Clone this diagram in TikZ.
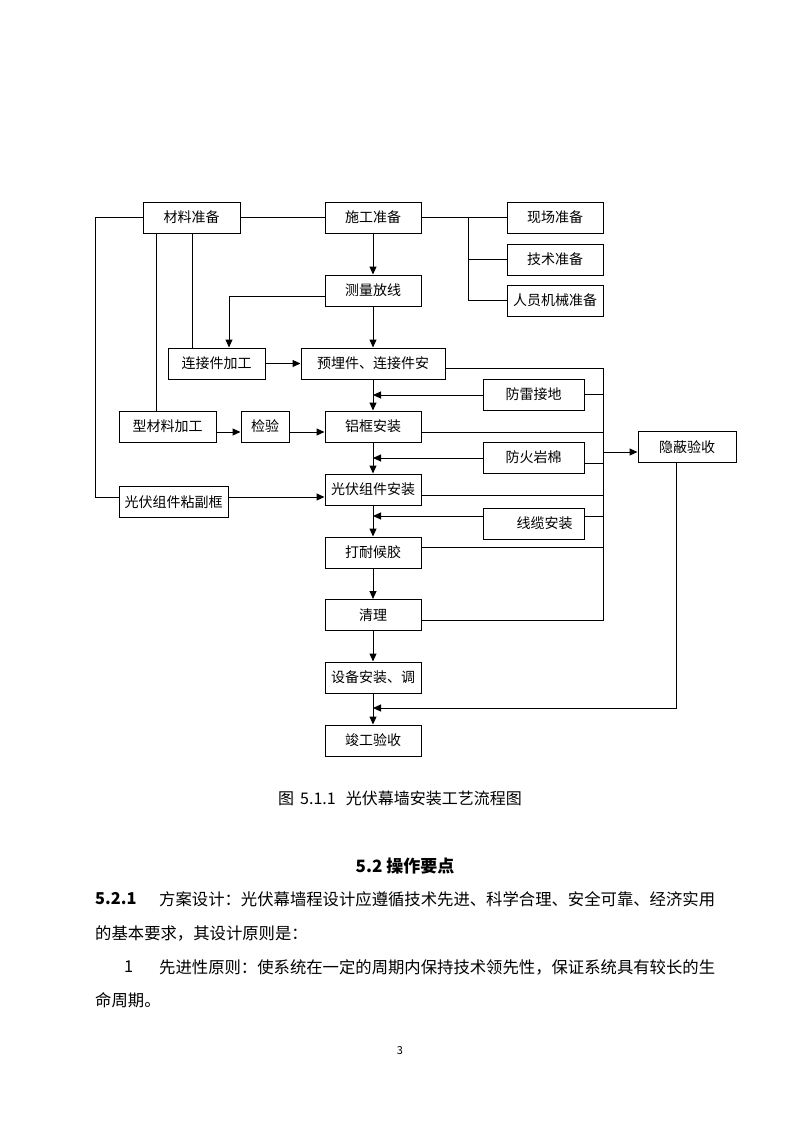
\documentclass[tikz,border=0pt]{standalone}
\usepackage{fontspec}
\setmainfont{Noto Sans CJK SC}
\usetikzlibrary{arrows.meta}
\begin{document}
\begin{tikzpicture}[x=1pt,y=-1pt,
  box/.style={draw, line width=1pt, minimum height=31pt, inner sep=0pt, font=\fontsize{14}{14}\selectfont},
  ln/.style={line width=1pt},
  arr/.style={line width=1pt, -{Triangle[length=8pt,width=7pt]}},
  body/.style={anchor=west, inner sep=0pt, font=\fontsize{16.35}{17}\selectfont}]
\path[fill=white] (0,0) rectangle (800,1132);
\useasboundingbox (0,0) rectangle (800,1132);
% boxes
\node[box, minimum width=97pt] (cl) at (191.5,217.5) {材料准备};
\node[box, minimum width=96pt] (sg) at (373,217.5) {施工准备};
\node[box, minimum width=96pt] (xc) at (555,217.5) {现场准备};
\node[box, minimum width=96pt] (js) at (555,259.5) {技术准备};
\node[box, minimum width=96pt] (ry) at (555,300.5) {人员机械准备};
\node[box, minimum width=96pt] (cf) at (373,290.5) {测量放线};
\node[box, minimum width=97pt] (ljj) at (216.5,363.5) {连接件加工};
\node[box, minimum width=144pt] (ymj) at (373,363.5) {预埋件、连接件安};
\node[box, minimum width=101pt] (flj) at (533.5,394.5) {防雷接地};
\node[box, minimum width=97pt] (xcl) at (167.5,426.5) {型材料加工};
\node[box, minimum width=48pt] (jy) at (265,426.5) {检验};
\node[box, minimum width=96pt] (lk) at (373,426.5) {铝框安装};
\node[box, minimum width=98pt] (yb) at (687,447) {隐蔽验收};
\node[box, minimum width=101pt] (fh) at (533.5,457.5) {防火岩棉};
\node[box, minimum width=96pt] (gfaz) at (373,489.5) {光伏组件安装};
\node[box, minimum width=109pt] (gffk) at (173.5,502) {光伏组件粘副框};
\node[box, minimum width=101pt] (xl) at (533.5,523.5) {\hspace*{22pt}线缆安装};
\node[box, minimum width=96pt] (dn) at (373,552.5) {打耐候胶};
\node[box, minimum width=96pt] (ql) at (373,615) {清理};
\node[box, minimum width=96pt] (sb) at (373,677.5) {设备安装、调};
\node[box, minimum width=96pt] (jg) at (373,740.5) {竣工验收};
% helper coordinates
\coordinate (b1) at (468,217.5);
\coordinate (L) at (95,497);
\coordinate (m1) at (156,0);
\coordinate (m2) at (192,0);
\coordinate (m3) at (229,296);
\coordinate (s1) at (373,395);
\coordinate (s2) at (373,458);
\coordinate (s3) at (373,516);
\coordinate (s4) at (373,708);
\coordinate (a) at (0,432);
\coordinate (bt) at (603,368);
\coordinate (bb) at (603,620);
\coordinate (k) at (676,0);
% top connectors
\draw[ln] (cl.east) -- (sg.west);
\draw[ln] (sg.east) -- (xc.west);
\draw[ln] (b1) |- (ry.west);
\draw[ln] (js.west) -- (js.west -| b1);
\draw[ln] (cl.west) -| (L) -- (gffk.west |- L);
\draw[ln] (cl.south -| m1) -- (xcl.north -| m1);
\draw[ln] (cl.south -| m2) -- (ljj.north -| m2);
\draw[arr] (sg) -- (cf);
\draw[arr] (cf.west |- m3) -| (ljj.north -| m3);
\draw[arr] (cf) -- (ymj);
\draw[arr] (ljj) -- (ymj);
% main spine
\draw[arr] (ymj) -- (lk);
\draw[arr] (flj.west |- s1) -- (s1);
\draw[arr] (xcl.east |- a) -- (jy.west |- a);
\draw[arr] (jy.east |- a) -- (lk.west |- a);
\draw[arr] (lk) -- (gfaz);
\draw[arr] (fh.west |- s2) -- (s2);
\draw[arr] (gffk.east |- L) -- (gfaz.west |- L);
\draw[arr] (gfaz) -- (dn);
\draw[arr] (xl.west |- s3) -- (s3);
\draw[arr] (dn) -- (ql);
\draw[arr] (ql) -- (sb);
\draw[arr] (sb) -- (jg);
% right bus
\draw[ln] (ymj.east |- bt) -- (bt) -- (bb) -- (ql.east |- bb);
\draw[ln] (flj.east) -- (flj.east -| bt);
\draw[ln] (lk.east |- a) -- (bt |- a);
\draw[ln] (fh.east |- 0,463) -- (bt |- 0,463);
\draw[ln] (gfaz.east |- 0,495) -- (bt |- 0,495);
\draw[ln] (xl.east |- s3) -- (bt |- s3);
\draw[ln] (dn.east |- 0,547) -- (bt |- 0,547);
\draw[arr] (bt |- 0,452) -- (yb.west |- 0,452);
\draw[arr] (yb.south -| k) |- (s4);
% texts
\node[font=\fontsize{16}{16}\selectfont, inner sep=0pt] (cap) at (400,798) {图\hspace{6pt}5.1.1\hspace{10pt}光伏幕墙安装工艺流程图};
\node[font=\bfseries\fontsize{17}{17}\selectfont, inner sep=0pt] (hd) at (405,866) {5.2 操作要点};
\node[body] (p1a) at (95,899) {\textbf{5.2.1}};
\node[body] (p1b) at (159,899) {方案设计：光伏幕墙程设计应遵循技术先进、科学合理、安全可靠、经济实用};
\node[body] (p2) at (95,933) {的基本要求，其设计原则是：};
\node[body] (p3a) at (124,967) {1};
\node[body] (p3b) at (159,967) {先进性原则：使系统在一定的周期内保持技术领先性，保证系统具有较长的生};
\node[body] (p4) at (95,1000) {命周期。};
\node[font=\fontsize{11}{11}\selectfont, inner sep=0pt] (pg) at (400,1051) {3};
\end{tikzpicture}
\end{document}
